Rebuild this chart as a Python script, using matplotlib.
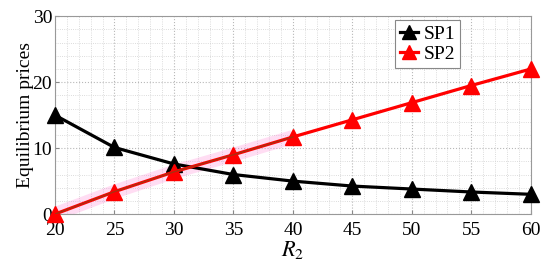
import matplotlib
matplotlib.use("Agg")
import matplotlib.pyplot as plt
from matplotlib.ticker import MultipleLocator

r2 = [20, 25, 30, 35, 40, 45, 50, 55, 60]
sp1 = [15.0, 10.1, 7.6, 6.0, 5.0, 4.25, 3.8, 3.35, 3.0]
sp2 = [0.0, 3.4, 6.4, 9.0, 11.7, 14.3, 16.9, 19.5, 22.0]
xticks = [20, 25, 30, 35, 40, 45, 50, 55, 60]
yticks = [0, 10, 20, 30]

plt.rcParams['font.family'] = ['Liberation Serif', 'DejaVu Serif']
plt.rcParams['mathtext.fontset'] = 'stix'

fig = plt.figure(figsize=(5.5, 2.71), dpi=100)
ax = fig.add_axes([0.10, 0.21, 0.865, 0.73])

ax.set_xlim(20, 60)
ax.set_ylim(0, 30)
ax.set_xticks(xticks)
ax.set_yticks(yticks)
ax.xaxis.set_minor_locator(MultipleLocator(1))
ax.yaxis.set_minor_locator(MultipleLocator(2))
ax.grid(which='major', color='#b8b8b8', linestyle=':', linewidth=0.8)
ax.grid(which='minor', color='#d0d0d0', linestyle=':', linewidth=0.6)
ax.tick_params(which='both', direction='in', labelsize=14, length=3,
               color='#888888', top=False, right=False)
ax.tick_params(which='minor', length=0)
ax.tick_params(axis='x', pad=5.5)
ax.tick_params(axis='y', pad=2)
for s in ax.spines.values():
    s.set_color('#999999')
    s.set_linewidth(0.8)

# faint pink halo artifact along first part of SP2
ax.plot(r2[:5], sp2[:5], color='#ff66cc', alpha=0.22, linewidth=10,
        solid_capstyle='butt', zorder=2)

ax.plot(r2, sp1, color='black', linewidth=2.3, marker='^', markersize=12,
        label='SP1', zorder=3, clip_on=False)
ax.plot(r2, sp2, color='red', linewidth=2.3, marker='^', markersize=12,
        label='SP2', zorder=4, clip_on=False)
# darker tint over the overlapping section
ax.plot(r2[:5], sp2[:5], color='#a83010', linewidth=1.0, zorder=5)

ax.set_ylabel('Equilibrium prices', fontsize=14, labelpad=-1)
ax.set_xlabel('$R_2$', fontsize=16, labelpad=0)

leg = ax.legend(loc='upper right', bbox_to_anchor=(0.851, 0.98), fontsize=14,
                handlelength=0.9, handletextpad=0.3, borderpad=0.25,
                borderaxespad=0, labelspacing=0.15, fancybox=False,
                framealpha=1, edgecolor='#888888', markerscale=0.85)
leg.get_frame().set_linewidth(0.8)

fig.savefig('out.png', dpi=100)
